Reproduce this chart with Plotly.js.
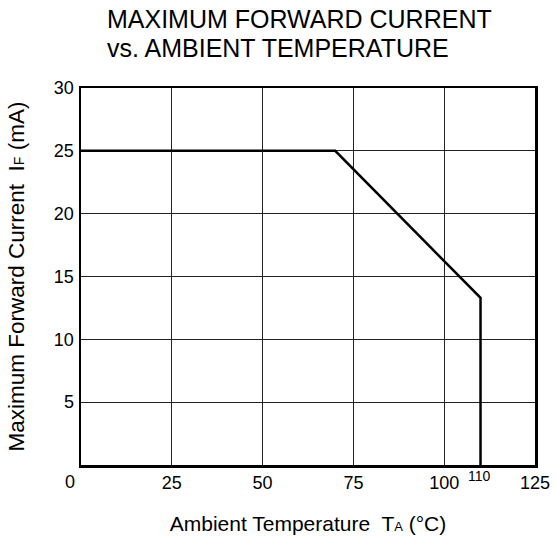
<!DOCTYPE html>
<html><head><meta charset="utf-8">
<script src="https://cdn.plot.ly/plotly-3.0.1.min.js"></script>
<style>html,body{margin:0;padding:0;background:#fff;}</style>
</head><body>
<div id="chart" style="width:556px;height:542px;"></div>
<script>
const temperature = [0, 70, 110, 110];
const current = [25, 25, 13.3, 0];
const xTicks = [25, 50, 75, 100, 125];
const yTicks = [5, 10, 15, 20, 25, 30];
const extraTick = 110;
const titleLines = ['MAXIMUM FORWARD CURRENT', 'vs. AMBIENT TEMPERATURE'];
const FONT = 'Arial, "Liberation Sans", sans-serif';

const trace = {
  x: temperature, y: current, type: 'scatter', mode: 'lines',
  line: {color: '#000', width: 2.5}, hoverinfo: 'skip', showlegend: false
};

const L = 80.5, R = 21;
const plotW = 556 - L - R;

const layout = {
  width: 556, height: 542,
  margin: {l: L, r: R, t: 88, b: 77},
  paper_bgcolor: '#fff', plot_bgcolor: '#fff',
  font: {family: FONT, color: '#000'},
  xaxis: {
    range: [0, 125], tickvals: xTicks, ticks: '', showgrid: true,
    gridcolor: '#222', gridwidth: 1, zeroline: false,
    showline: true, linecolor: '#000', linewidth: 2.5, mirror: true,
    tickfont: {size: 18, family: FONT}, ticklabelstandoff: 0,
    title: {text: 'Ambient Temperature  T<span style="font-size:13px">A</span> (°C)', font: {size: 21, family: FONT}, standoff: 24}
  },
  yaxis: {
    range: [0, 30], tickvals: yTicks, ticks: '', showgrid: true,
    gridcolor: '#222', gridwidth: 1, zeroline: false,
    showline: true, linecolor: '#000', linewidth: 2.5, mirror: true,
    tickfont: {size: 18, family: FONT}, ticklabelstandoff: 1,
    title: {text: 'Maximum Forward Current  I<span style="font-size:14px">F</span> (mA)', font: {size: 22.5, family: FONT}, standoff: 23}
  },
  annotations: [
    {xref: 'paper', yref: 'paper', x: 0, y: 0, xshift: -11, yshift: -5, yanchor: 'top', xanchor: 'center',
     text: '0', showarrow: false, font: {size: 18, family: FONT}},
    {xref: 'x', yref: 'paper', x: extraTick, y: 0, xshift: -1.5, yshift: -1, yanchor: 'top', xanchor: 'center',
     text: String(extraTick), showarrow: false, font: {size: 14, family: FONT}},
    {xref: 'paper', yref: 'paper', x: (105 - L) / plotW, xanchor: 'left', y: 1, yshift: 69, yanchor: 'middle',
     text: titleLines[0], showarrow: false, font: {size: 25, family: FONT}},
    {xref: 'paper', yref: 'paper', x: (105 - L) / plotW, xanchor: 'left', y: 1, yshift: 40, yanchor: 'middle',
     text: titleLines[1], showarrow: false, font: {size: 25, family: FONT}}
  ]
};

Plotly.newPlot('chart', [trace], layout, {staticPlot: true, displayModeBar: false});
</script>
</body></html>
